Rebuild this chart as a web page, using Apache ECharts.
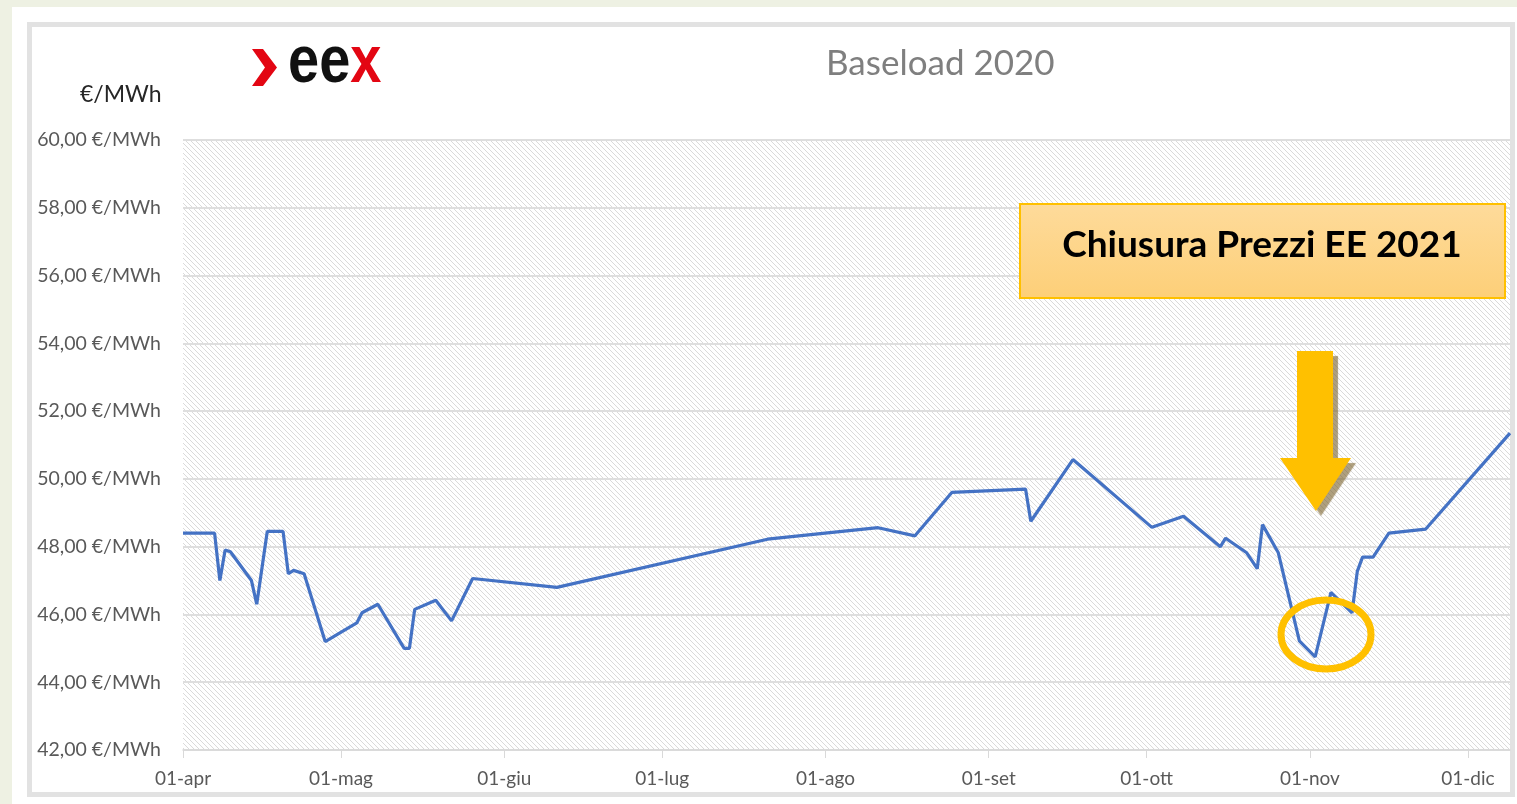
<!DOCTYPE html>
<html>
<head>
<meta charset="utf-8">
<title>Baseload 2020</title>
<script src="https://cdn.jsdelivr.net/npm/echarts@6/dist/echarts.min.js"></script>
<style>
  html, body { margin: 0; padding: 0; background: #eef1e3; }
  #chart { width: 1517px; height: 804px; }
</style>
</head>
<body>
<div id="chart"></div>
<script>
// prezzi EEX baseload (chiusure)
var dates = ['2020-04-01', '2020-04-07', '2020-04-08', '2020-04-09', '2020-04-10', '2020-04-14',
  '2020-04-15', '2020-04-17', '2020-04-20', '2020-04-21', '2020-04-22', '2020-04-24', '2020-04-28',
  '2020-05-04', '2020-05-05', '2020-05-08', '2020-05-13', '2020-05-14', '2020-05-15', '2020-05-19',
  '2020-05-22', '2020-05-26', '2020-06-11', '2020-07-21', '2020-08-11', '2020-08-18', '2020-08-25',
  '2020-09-08', '2020-09-09', '2020-09-17', '2020-10-02', '2020-10-08', '2020-10-15', '2020-10-16',
  '2020-10-20', '2020-10-22', '2020-10-23', '2020-10-26', '2020-10-30', '2020-11-02', '2020-11-05',
  '2020-11-09', '2020-11-10', '2020-11-11', '2020-11-13', '2020-11-16', '2020-11-23', '2020-12-09']
var prices = [48.4, 48.4, 47.0, 47.9, 47.85, 47.0,
  46.3, 48.45, 48.45, 47.2, 47.3, 47.2, 45.2,
  45.75, 46.05, 46.3, 45.0, 45.0, 46.15, 46.42,
  45.81, 47.06, 46.8, 48.22, 48.56, 48.32, 49.6,
  49.7, 48.75, 50.57, 48.57, 48.9, 48.0, 48.25,
  47.82, 47.35, 48.65, 47.82, 45.22, 44.75, 46.65,
  46.05, 47.27, 47.69, 47.69, 48.4, 48.52, 51.35]

var monthNames = ['gen', 'feb', 'mar', 'apr', 'mag', 'giu', 'lug', 'ago', 'set', 'ott', 'nov', 'dic']
var monthStarts = ['2020-04-01', '2020-05-01', '2020-06-01', '2020-07-01', '2020-08-01',
  '2020-09-01', '2020-10-01', '2020-11-01', '2020-12-01']
var firstDay = '2020-04-01'
var lastDay = '2020-12-09'

function toTime(s) {
  var p = s.split('-')
  return new Date(+p[0], +p[1] - 1, +p[2]).getTime()
}
var monthTicks = monthStarts.map(toTime)

// sfondo a righe diagonali dell'area del grafico
function hatch() {
  var c = document.createElement('canvas')
  c.width = 5
  c.height = 5
  var ctx = c.getContext('2d')
  ctx.fillStyle = '#ffffff'
  ctx.fillRect(0, 0, 5, 5)
  ctx.strokeStyle = '#dadada'
  ctx.lineWidth = 1
  ctx.beginPath()
  ctx.moveTo(-1, -1); ctx.lineTo(6, 6)
  ctx.moveTo(-1, 4); ctx.lineTo(1, 6)
  ctx.moveTo(4, -1); ctx.lineTo(6, 1)
  ctx.stroke()
  return c
}

var chart = echarts.init(document.getElementById('chart'))
chart.setOption({
  backgroundColor: '#ffffff',
  animation: false,
  grid: {
    left: 183,
    right: 7,
    top: 140,
    bottom: 54,
    show: true,
    borderWidth: 0,
    backgroundColor: { image: hatch(), repeat: 'repeat' }
  },
  xAxis: {
    type: 'value',
    min: toTime(firstDay),
    max: toTime(lastDay),
    axisLine: { show: true, lineStyle: { color: '#d9d9d9', width: 1.5 } },
    axisTick: { show: true, length: 8, customValues: monthTicks, lineStyle: { color: '#d9d9d9' } },
    axisLabel: {
      customValues: monthTicks,
      margin: 19,
      color: '#595959',
      fontFamily: 'Lato',
      fontSize: 19,
      formatter: function (v) {
        return '01-' + monthNames[new Date(v).getMonth()]
      }
    },
    splitLine: { show: false }
  },
  yAxis: {
    type: 'value',
    min: 42,
    max: 60,
    interval: 2,
    axisLine: { show: false },
    axisTick: { show: false },
    axisLabel: {
      margin: 22,
      color: '#595959',
      fontFamily: 'Lato',
      fontSize: 19.5,
      formatter: function (v) {
        return v.toFixed(2).replace('.', ',') + ' €/MWh'
      }
    },
    splitLine: { lineStyle: { color: '#dedede', width: 2 } }
  },
  series: [
    {
      name: 'Baseload 2020',
      type: 'line',
      showSymbol: false,
      data: dates.map(function (d, i) { return [toTime(d), prices[i]] }),
      lineStyle: { color: '#4472c4', width: 3.2 },
      itemStyle: { color: '#4472c4' },
      z: 3
    }
  ],
  graphic: [
    // cornice della slide
    { type: 'rect', silent: true, z: -10, shape: { x: 0, y: 0, width: 12, height: 804 }, style: { fill: '#eef1e3' } },
    { type: 'rect', silent: true, z: -10, shape: { x: 0, y: 0, width: 1517, height: 7 }, style: { fill: '#eef1e3' } },
    { type: 'rect', silent: true, z: -5, shape: { x: 29.5, y: 24.5, width: 1483, height: 770 }, style: { fill: 'none', stroke: '#e2e2e2', lineWidth: 5 } },
    // logo eex
    {
      type: 'polygon', silent: true,
      shape: { points: [[252, 49], [263, 49], [277, 67.5], [263, 86], [252, 86], [265, 67.5]] },
      style: { fill: '#e30613' }
    },
    {
      type: 'text', silent: true, x: 288, y: 30, scaleY: 1.2,
      style: {
        text: '{a|ee}{b|x}',
        rich: {
          a: { fill: '#111111', fontSize: 56, fontWeight: 'bold', fontFamily: 'Liberation Sans' },
          b: { fill: '#e30613', fontSize: 56, fontWeight: 'bold', fontFamily: 'Liberation Sans' }
        }
      }
    },
    {
      type: 'text', silent: true, left: 80, top: 83,
      style: { text: '€/MWh', fill: '#262626', fontSize: 23, fontFamily: 'Lato' }
    },
    {
      type: 'text', silent: true, left: 826, top: 46,
      style: { text: 'Baseload 2020', fill: '#7f7f7f', fontSize: 35, fontFamily: 'Lato' }
    },
    // riquadro annotazione
    {
      type: 'rect', silent: true, z: 20,
      shape: { x: 1020, y: 204, width: 485, height: 94 },
      style: {
        fill: new echarts.graphic.LinearGradient(0, 0, 0, 1, [
          { offset: 0, color: '#fedb9b' },
          { offset: 1, color: '#fdcf78' }
        ]),
        stroke: '#ffc000',
        lineWidth: 2
      }
    },
    {
      type: 'text', silent: true, z: 21, x: 1262, y: 245,
      style: {
        text: 'Chiusura Prezzi EE 2021',
        fill: '#000000',
        fontSize: 37,
        fontWeight: 'bold',
        fontFamily: 'Lato',
        align: 'center',
        verticalAlign: 'middle'
      }
    },
    // freccia
    {
      type: 'polygon', silent: true, z: 20,
      shape: {
        points: [[1297, 351], [1333, 351], [1333, 458], [1351, 458], [1316, 511], [1280, 458], [1297, 458]]
      },
      style: {
        fill: '#ffc000',
        shadowColor: 'rgba(120, 95, 40, 0.6)',
        shadowBlur: 1,
        shadowOffsetX: 5,
        shadowOffsetY: 5
      }
    },
    // cerchio sul minimo
    {
      type: 'ellipse', silent: true, z: 20,
      shape: { cx: 1326, cy: 634.5, rx: 45, ry: 34.5 },
      style: { fill: 'none', stroke: '#ffc000', lineWidth: 7 }
    }
  ]
})
</script>
</body>
</html>
